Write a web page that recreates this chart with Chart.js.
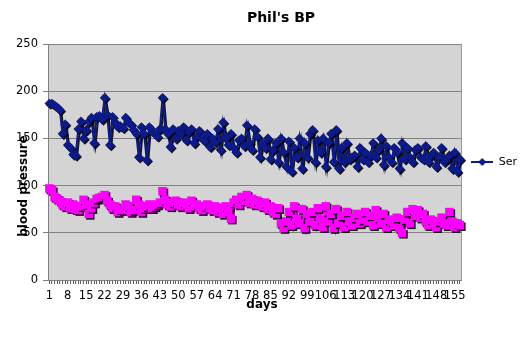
<!DOCTYPE html>
<html>
<head>
<meta charset="utf-8">
<script src="https://cdn.jsdelivr.net/npm/chart.js@4/dist/chart.umd.min.js"></script>
<style>
  html, body { margin: 0; padding: 0; background: #ffffff; }
  #wrap { width: 530px; height: 338px; }
</style>
</head>
<body>
<div id="wrap"><canvas id="bp" width="530" height="338"></canvas></div>
<script>
// Daily readings, mmHg
const systolic = [
  187, 187, 185, 183, 180, 155, 165, 143, 140, 133,
  132, 160, 168, 150, 159, 168, 172, 145, 173, 174,
  170, 193, 175, 143, 173, 167, 162, 163, 161, 172,
  167, 165, 159, 155, 130, 162, 155, 127, 162, 158,
  155, 152, 160, 193, 160, 155, 141, 160, 150, 158,
  155, 162, 148, 157, 160, 145, 152, 158, 150, 147,
  155, 141, 150, 146, 160, 138, 167, 150, 143, 155,
  140, 135, 148, 150, 142, 164, 145, 138, 160, 152,
  130, 145, 140, 150, 128, 138, 145, 125, 150, 135,
  120, 147, 115, 140, 130, 150, 118, 145, 130, 155,
  159, 125, 148, 135, 150, 120, 145, 155, 125, 159,
  118, 140, 125, 145, 128, 130, 132, 120, 140, 128,
  135, 125, 132, 145, 130, 138, 150, 122, 142, 130,
  125, 140, 135, 118, 145, 128, 140, 130, 125, 138,
  140, 130, 128, 142, 125, 132, 135, 120, 130, 140,
  125, 128, 132, 118, 135, 115, 128
];

const diastolic = [
  97, 95, 88, 86, 84, 80, 78, 82, 76, 80,
  75, 74, 78, 85, 80, 70, 76, 82, 86, 87,
  88, 90, 84, 80, 76, 78, 72, 75, 74, 80,
  78, 72, 74, 85, 80, 72, 76, 78, 80, 76,
  78, 80, 82, 94, 85, 80, 78, 82, 84, 80,
  78, 82, 80, 76, 84, 78, 80, 76, 74, 78,
  80, 76, 74, 78, 72, 76, 70, 78, 72, 65,
  82, 85, 80, 88, 84, 90, 82, 86, 80, 84,
  80, 78, 82, 75, 78, 72, 70, 76, 60, 55,
  62, 72, 58, 78, 65, 60, 75, 55, 70, 62,
  72, 58, 76, 65, 56, 78, 62, 70, 55, 75,
  60, 68, 56, 72, 62, 58, 66, 70, 60, 64,
  72, 62, 68, 58, 74, 66, 60, 70, 56, 64,
  62, 58, 66, 55, 50, 64, 72, 60, 75, 68,
  74, 66, 70, 62, 58, 64, 60, 56, 62, 66,
  60, 58, 72, 62, 56, 60, 58
];

// Day numbers along the x axis, one per reading
const days = systolic.map((_, i) => String(i + 1));
const labelEvery = 7;

const yTicks = [0, 50, 100, 150, 200, 250];

const chartTitle = "Phil's BP";
const xTitle = 'days';
const yTitle = 'blood pressure';
const seriesNames = ['Ser', 'Series2'];

const FONT = '"DejaVu Sans", Verdana, sans-serif';
const NAVY = '#0c1a8a';
const MAGENTA = '#ff00ff';

// Legend icon: a short line with a diamond marker
function makeLegendIcon() {
  const c = document.createElement('canvas');
  c.width = 22; c.height = 10;
  const g = c.getContext('2d');
  g.strokeStyle = NAVY; g.lineWidth = 2;
  g.beginPath(); g.moveTo(0, 5); g.lineTo(22, 5); g.stroke();
  g.fillStyle = NAVY;
  g.beginPath(); g.moveTo(11, 1); g.lineTo(15, 5); g.lineTo(11, 9); g.lineTo(7, 5); g.closePath(); g.fill();
  return c;
}
const legendIcon = makeLegendIcon();

// Grey plot background and right frame line
const plotFrame = {
  id: 'plotFrame',
  beforeDraw(chart) {
    const { ctx, chartArea: a } = chart;
    ctx.save();
    ctx.fillStyle = '#d4d4d4';
    ctx.fillRect(a.left, a.top, a.right - a.left, a.bottom - a.top);
    ctx.strokeStyle = '#9a9a9a';
    ctx.lineWidth = 1;
    ctx.beginPath();
    ctx.moveTo(Math.round(a.right) + 0.5, a.top);
    ctx.lineTo(Math.round(a.right) + 0.5, a.bottom);
    ctx.stroke();
    ctx.restore();
  }
};

// Hard black drop shadow under lines and markers
const markerShadow = {
  id: 'markerShadow',
  beforeDatasetsDraw(chart) {
    const c = chart.ctx;
    c.save();
    c.shadowColor = 'rgba(0,0,0,0.9)';
    c.shadowOffsetX = 1.5;
    c.shadowOffsetY = 1.5;
    c.shadowBlur = 0;
  },
  afterDatasetsDraw(chart) {
    chart.ctx.restore();
  }
};

// Chart title and axis titles
const titles = {
  id: 'titles',
  afterDraw(chart) {
    const c = chart.ctx;
    c.save();
    c.fillStyle = '#000';
    c.textAlign = 'center';
    c.textBaseline = 'middle';
    c.font = 'bold 14px ' + FONT;
    c.fillText(chartTitle, 281, 18);
    c.font = 'bold 12px ' + FONT;
    c.fillText(xTitle, 262, 305);
    c.translate(24, 186);
    c.rotate(-Math.PI / 2);
    c.fillText(yTitle, 0, 0);
    c.restore();
  }
};

new Chart(document.getElementById('bp'), {
  type: 'line',
  data: {
    labels: days,
    datasets: [
      {
        label: seriesNames[0],
        data: systolic,
        borderColor: NAVY,
        backgroundColor: NAVY,
        borderWidth: 2,
        pointStyle: 'rectRot',
        pointRadius: 4.8,
        pointBorderWidth: 0,
        pointHoverRadius: 4.8,
        tension: 0,
        clip: false
      },
      {
        label: seriesNames[1],
        data: diastolic,
        borderColor: MAGENTA,
        backgroundColor: MAGENTA,
        borderWidth: 2,
        pointStyle: 'rect',
        pointRadius: 6,
        pointBorderWidth: 0,
        pointHoverRadius: 6,
        tension: 0,
        clip: false
      }
    ]
  },
  options: {
    responsive: false,
    animation: false,
    events: [],
    layout: { padding: { top: 44, right: 3, bottom: 0, left: 0 } },
    plugins: {
      title: { display: false },
      tooltip: { enabled: false },
      legend: {
        display: true,
        position: 'right',
        fullSize: false,
        labels: {
          color: '#000',
          font: { family: FONT, size: 11 },
          usePointStyle: true,
          pointStyleWidth: 22,
          padding: 10,
          generateLabels: () => [{
            text: seriesNames[0],
            pointStyle: legendIcon,
            fillStyle: NAVY,
            strokeStyle: NAVY,
            lineWidth: 0,
            hidden: false,
            datasetIndex: 0,
            fontColor: '#000'
          }]
        }
      }
    },
    scales: {
      x: {
        offset: true,
        grid: {
          display: true,
          drawOnChartArea: false,
          drawTicks: true,
          tickLength: 4,
          color: '#606060'
        },
        border: { display: true, color: '#808080' },
        ticks: {
          autoSkip: false,
          maxRotation: 0,
          minRotation: 0,
          padding: 5,
          color: '#000',
          font: { family: FONT, size: 11.5 },
          callback: (v, i) => (i % labelEvery === 0 ? days[i] : '')
        },
        afterFit: (s) => { s.height = 58; }
      },
      y: {
        min: yTicks[0],
        max: yTicks[yTicks.length - 1],
        afterBuildTicks: (s) => { s.ticks = yTicks.map(v => ({ value: v })); },
        grid: { color: '#808080', tickLength: 5, drawTicks: true },
        border: { display: true, color: '#808080' },
        ticks: {
          padding: 5,
          color: '#000',
          font: { family: FONT, size: 11.5 }
        },
        afterFit: (s) => { s.width = 48; }
      }
    }
  },
  plugins: [plotFrame, markerShadow, titles]
});
</script>
</body>
</html>
